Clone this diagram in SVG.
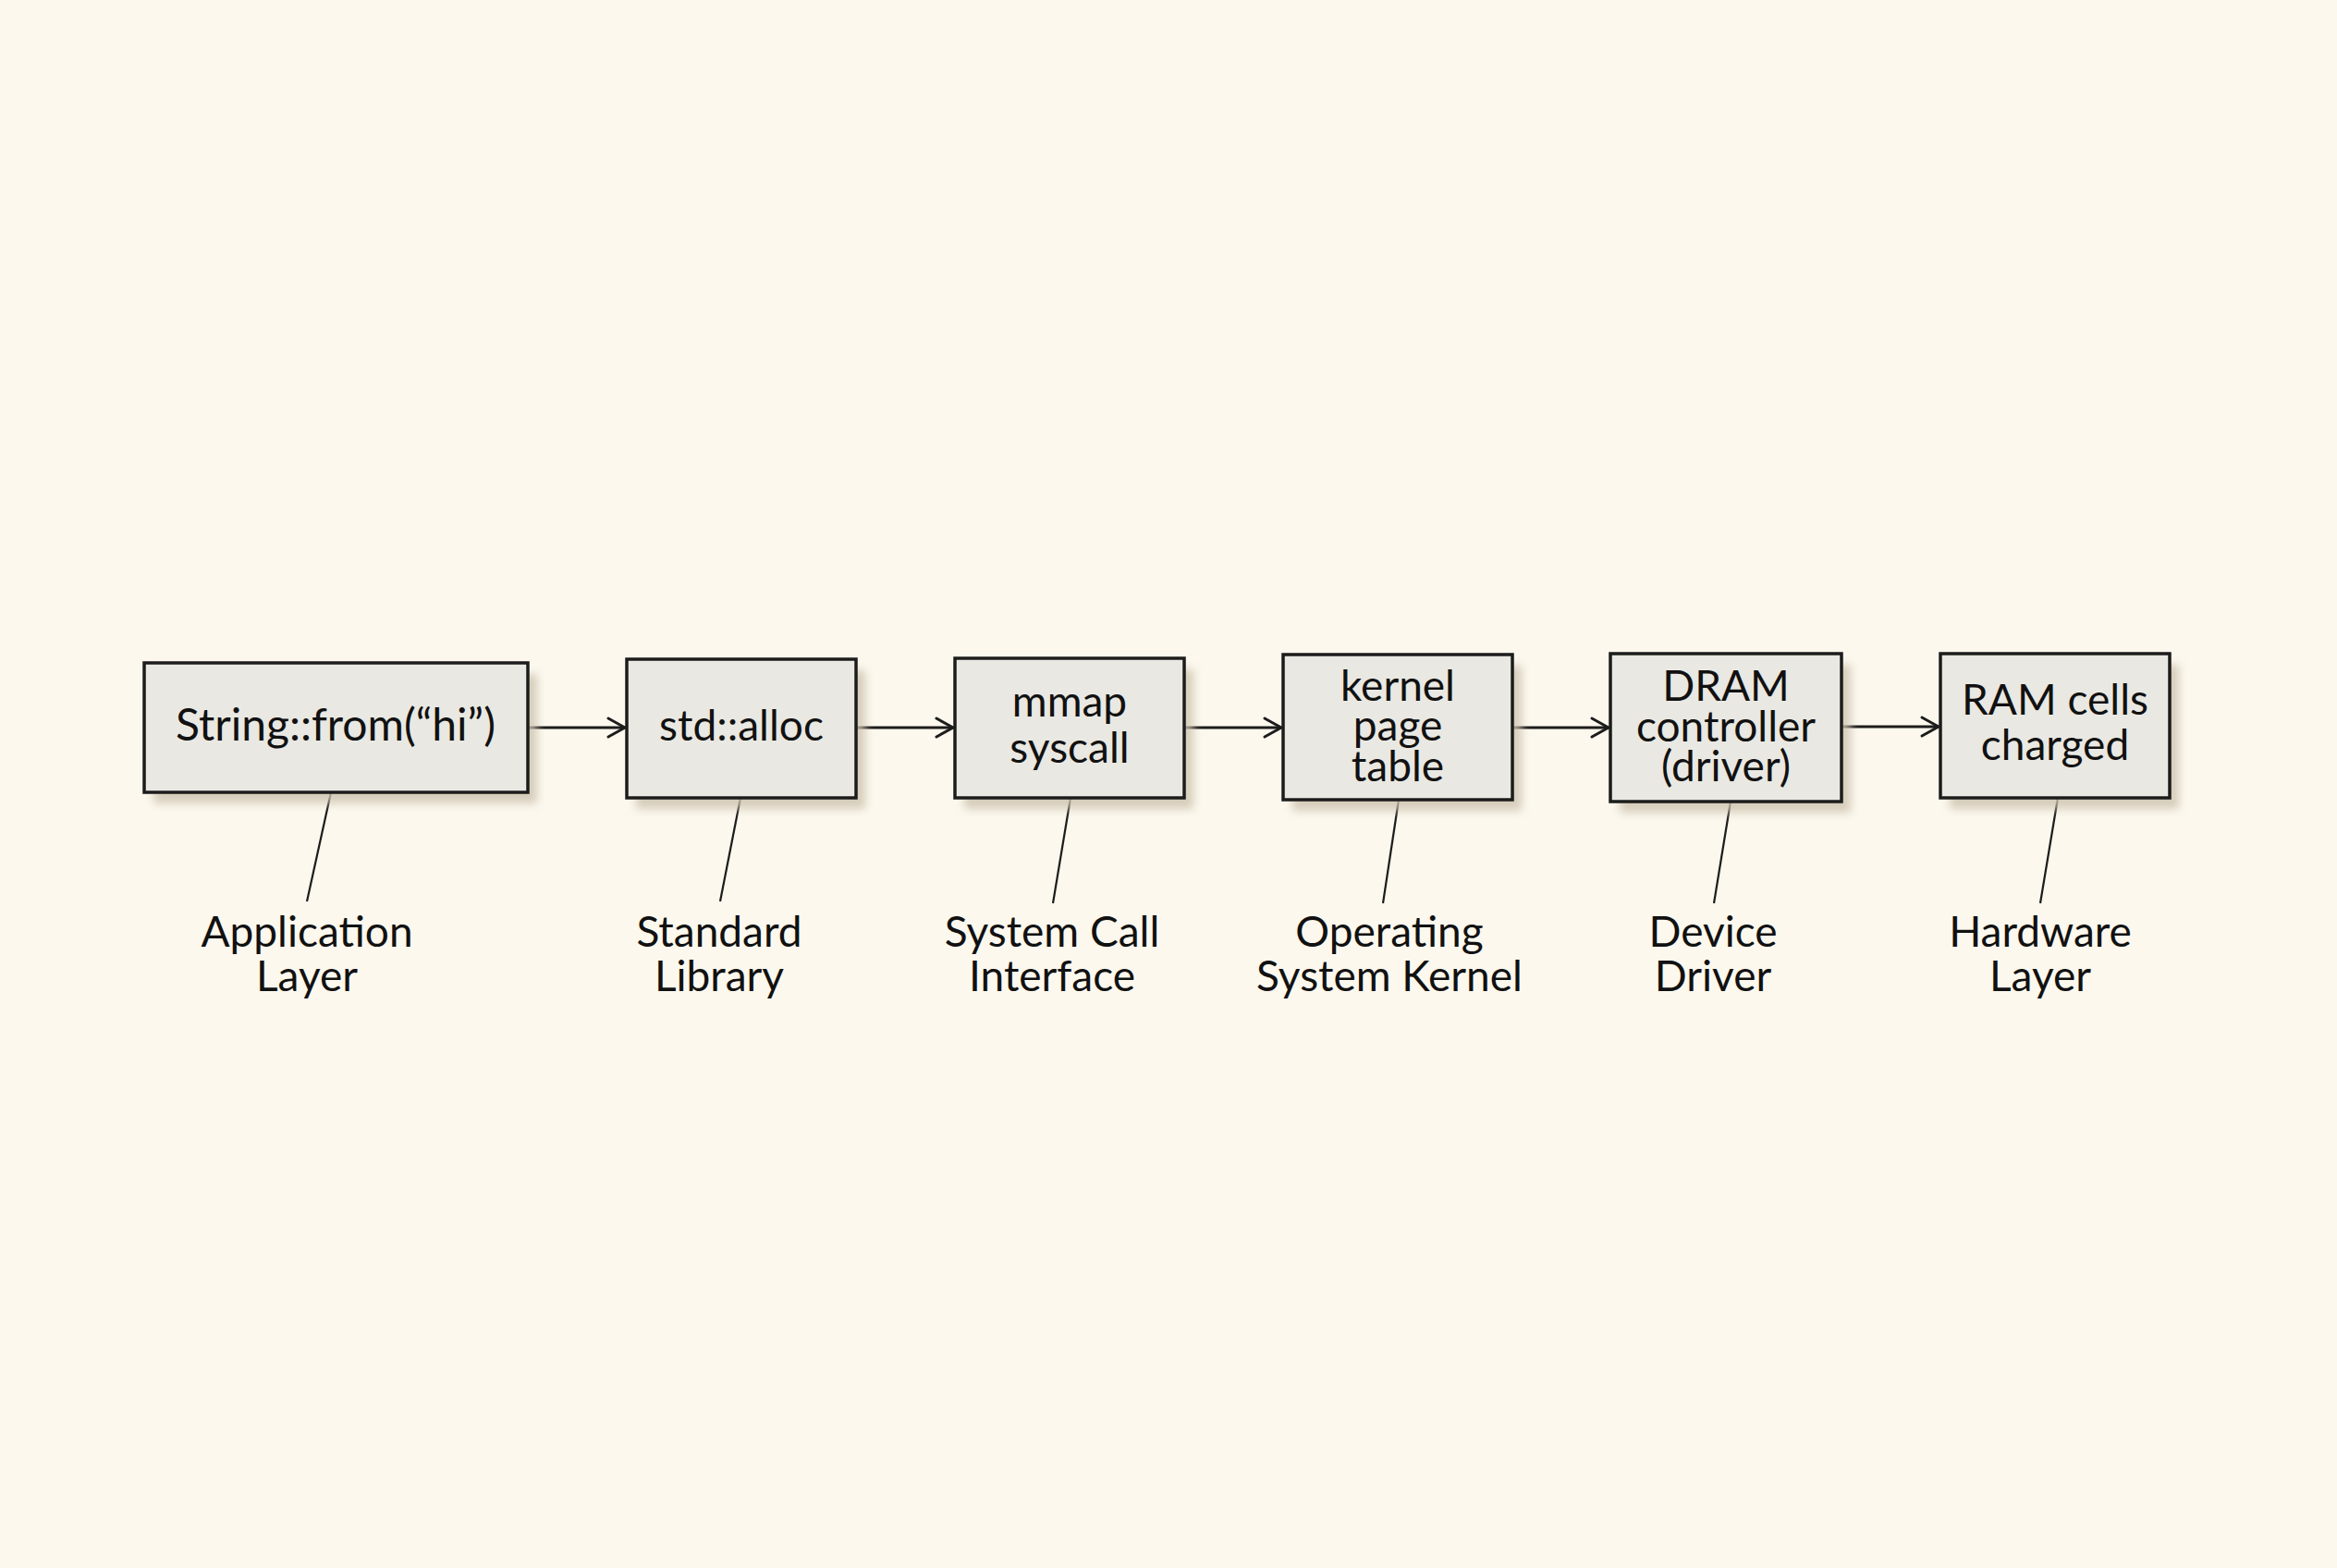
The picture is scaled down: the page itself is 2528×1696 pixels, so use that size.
<svg xmlns="http://www.w3.org/2000/svg" width="2528" height="1696" viewBox="0 0 2528 1696">
<defs>
<style>
.box{fill:#e9e8e2;stroke:#1c1c1c;stroke-width:3.5}
.shadow{fill:#cdc2ae;opacity:0.8;filter:url(#blur)}
.t{font-family:Lato,"Noto Sans",sans-serif;font-size:46px;fill:#111;text-anchor:middle}
.edge{stroke:#1c1c1c;stroke-width:2.8;fill:none}
.lead{stroke:#1c1c1c;stroke-width:2.2;fill:none}
</style>
<filter id="blur" x="-10%" y="-10%" width="120%" height="130%"><feGaussianBlur stdDeviation="5"/></filter>
<marker id="arr" viewBox="0 0 26 26" refX="23" refY="13" markerWidth="26" markerHeight="26" markerUnits="userSpaceOnUse" orient="auto">
<path d="M5 3 L23 13 L5 23" fill="none" stroke="#1c1c1c" stroke-width="3" stroke-linecap="round" stroke-linejoin="round"/>
</marker>
</defs>
<rect width="2528" height="1696" fill="#fcf8ee"/>

<g id="connectors">
<line class="edge" x1="571" y1="787" x2="676" y2="787" marker-end="url(#arr)"/>
<line class="edge" x1="926" y1="787" x2="1031" y2="787" marker-end="url(#arr)"/>
<line class="edge" x1="1281" y1="787" x2="1386" y2="787" marker-end="url(#arr)"/>
<line class="edge" x1="1636" y1="787" x2="1740" y2="787" marker-end="url(#arr)"/>
<line class="edge" x1="1992" y1="786" x2="2097" y2="786" marker-end="url(#arr)"/>
<line class="lead" x1="358" y1="857" x2="332" y2="975"/>
<line class="lead" x1="801" y1="863" x2="779" y2="975"/>
<line class="lead" x1="1158" y1="863" x2="1139" y2="977"/>
<line class="lead" x1="1513" y1="865" x2="1496" y2="977"/>
<line class="lead" x1="1872" y1="867" x2="1854" y2="977"/>
<line class="lead" x1="2226" y1="863" x2="2207" y2="977"/>
</g>

<g id="node-string">
<rect class="shadow" x="166" y="729" width="415" height="140"/>
<rect class="box" x="156" y="717" width="415" height="140"/>
<text class="t" x="363" y="801" style="font-size:48px">String::from(“hi”)</text>
</g>
<g id="node-alloc">
<rect class="shadow" x="688" y="725" width="248" height="150"/>
<rect class="box" x="678" y="713" width="248" height="150"/>
<text class="t" x="802" y="801">std::alloc</text>
</g>
<g id="node-mmap">
<rect class="shadow" x="1043" y="724" width="248" height="151"/>
<rect class="box" x="1033" y="712" width="248" height="151"/>
<text class="t" x="1157" y="775">mmap<tspan x="1157" dy="50">syscall</tspan></text>
</g>
<g id="node-kernel">
<rect class="shadow" x="1398" y="720" width="248" height="157"/>
<rect class="box" x="1388" y="708" width="248" height="157"/>
<text class="t" x="1512" y="758">kernel<tspan x="1512" dy="43">page</tspan><tspan x="1512" dy="44">table</tspan></text>
</g>
<g id="node-dram">
<rect class="shadow" x="1752" y="719" width="250" height="160"/>
<rect class="box" x="1742" y="707" width="250" height="160"/>
<text class="t" x="1867" y="758">DRAM<tspan x="1867" dy="44">controller</tspan><tspan x="1867" dy="43">(driver)</tspan></text>
</g>
<g id="node-ram">
<rect class="shadow" x="2109" y="719" width="248" height="156"/>
<rect class="box" x="2099" y="707" width="248" height="156"/>
<text class="t" x="2223" y="773">RAM cells<tspan x="2223" dy="49">charged</tspan></text>
</g>

<g id="label-app"><text class="t" x="332" y="1024">Application<tspan x="332" dy="48">Layer</tspan></text></g>
<g id="label-std"><text class="t" x="778" y="1024">Standard<tspan x="778" dy="48">Library</tspan></text></g>
<g id="label-sys"><text class="t" x="1138" y="1024">System Call<tspan x="1138" dy="48">Interface</tspan></text></g>
<g id="label-os"><text class="t" x="1503" y="1024">Operating<tspan x="1503" dy="48">System Kernel</tspan></text></g>
<g id="label-dev"><text class="t" x="1853" y="1024">Device<tspan x="1853" dy="48">Driver</tspan></text></g>
<g id="label-hw"><text class="t" x="2207" y="1024">Hardware<tspan x="2207" dy="48">Layer</tspan></text></g>
</svg>
